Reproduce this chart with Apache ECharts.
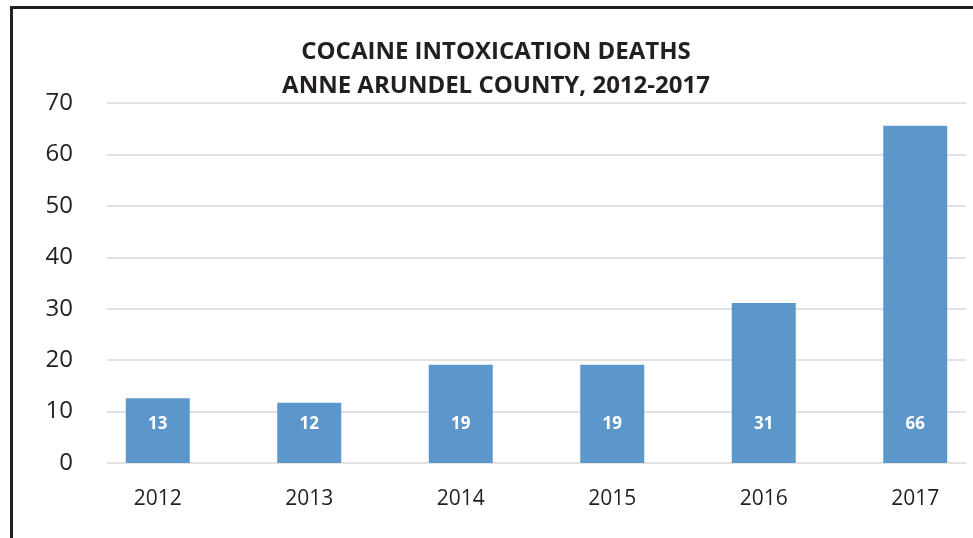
<!DOCTYPE html>
<html>
<head>
<meta charset="utf-8">
<script src="https://cdn.jsdelivr.net/npm/echarts@6/dist/echarts.min.js"></script>
<style>html,body{margin:0;padding:0;background:#fff;}#c{width:973px;height:538px;}</style>
</head>
<body>
<div id="c"></div>
<script>
var titleLines = ['COCAINE INTOXICATION DEATHS', 'ANNE ARUNDEL COUNTY, 2012-2017'];
var categories = ['2012', '2013', '2014', '2015', '2016', '2017'];
var deaths = [12.6, 11.7, 19.1, 19.1, 31.1, 65.6];
var yTicks = [0, 10, 20, 30, 40, 50, 60, 70];

var FONT = 'Open Sans';
var TEXT = '#231f20';
var chart = echarts.init(document.getElementById('c'), null, {renderer: 'canvas'});
chart.setOption({
  backgroundColor: '#ffffff',
  animation: false,
  title: {
    text: titleLines.join('\n'),
    left: 496, top: 35, textAlign: 'center', padding: 0,
    textStyle: {fontFamily: FONT, fontWeight: 'bold', fontSize: 24, lineHeight: 34, color: TEXT}
  },
  graphic: [{
    type: 'polyline',
    shape: {points: [[11.5, 540], [11.5, 7.5], [975, 7.5]]},
    style: {stroke: '#231f20', lineWidth: 3, fill: null},
    z: 100
  }],
  grid: [
    {left: 107, width: 859, top: 103, height: 360, outerBoundsMode: 'none'},
    {left: 82, width: 909, top: 103, height: 360, outerBoundsMode: 'none'}
  ],
  xAxis: [
    {gridIndex: 0, type: 'category', data: categories, show: false},
    {gridIndex: 1, type: 'category', data: categories,
     axisLine: {show: false}, axisTick: {show: false},
     axisLabel: {margin: 26, fontFamily: FONT, fontSize: 21, color: TEXT}}
  ],
  yAxis: [
    {gridIndex: 0, type: 'value', min: yTicks[0], max: yTicks[yTicks.length - 1], interval: 10,
     axisLine: {show: false}, axisTick: {show: false},
     axisLabel: {margin: 34, fontFamily: FONT, fontSize: 24, color: TEXT},
     splitLine: {show: true, lineStyle: {color: '#d9d9d9', width: 1.5}}},
    {gridIndex: 1, type: 'value', min: yTicks[0], max: yTicks[yTicks.length - 1], interval: 10, show: false,
     splitLine: {show: false}}
  ],
  series: [{
    type: 'bar', xAxisIndex: 1, yAxisIndex: 1,
    data: deaths, barWidth: 64,
    itemStyle: {color: '#5b97ca'},
    label: {show: true, position: 'insideBottom', distance: 30,
            formatter: function (p) { return Math.round(p.value); },
            fontFamily: FONT, fontWeight: 'bold', fontSize: 17, color: '#ffffff'}
  }]
});
</script>
</body>
</html>
